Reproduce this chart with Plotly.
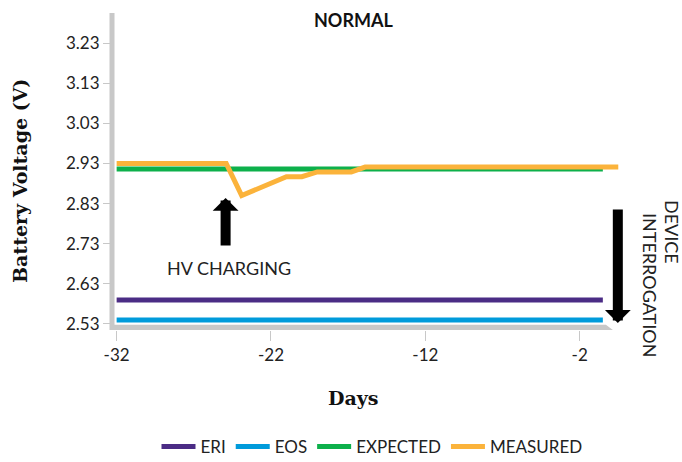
import plotly.graph_objects as go

# ---- data ----
days_line = [-32, -0.5]
eri = [2.59, 2.59]
eos = [2.54, 2.54]
expected = [2.916, 2.916]
days_measured = [-32, -24.9, -23.9, -21.0, -20.0, -19.0, -16.8, -15.9, 0.5]
measured = [2.93, 2.93, 2.85, 2.897, 2.897, 2.909, 2.909, 2.921, 2.921]
x_tick_vals = [-32, -22, -12, -2]
x_tick_text = ["-32", "-22", "-12", "-2"]
y_tick_vals = [2.53, 2.63, 2.73, 2.83, 2.93, 3.03, 3.13, 3.23]

COL_ERI = "#4b2c85"
COL_EOS = "#009bdb"
COL_EXP = "#0db04b"
COL_MEAS = "#fbb33b"
GRAY = "#c8c8c8"
SANS = "Lato, 'Noto Sans', sans-serif"
SERIF = "'DejaVu Serif', 'Liberation Serif', serif"
TXT = "#222222"

W, H = 682, 462

fig = go.Figure()
fig.add_trace(go.Scatter(x=days_line, y=eri, mode="lines", name="ERI",
                         line=dict(color=COL_ERI, width=5)))
fig.add_trace(go.Scatter(x=days_line, y=eos, mode="lines", name="EOS",
                         line=dict(color=COL_EOS, width=5)))
fig.add_trace(go.Scatter(x=days_line, y=expected, mode="lines", name="EXPECTED",
                         line=dict(color=COL_EXP, width=5)))
fig.add_trace(go.Scatter(x=days_measured, y=measured, mode="lines", name="MEASURED",
                         line=dict(color=COL_MEAS, width=5)))

X0, X1 = -32.3, 1.0
Y0, Y1 = 2.515, 3.305
# plot area in pixels: left 112, right 626, top 13, bottom 330
L, R, T, B = 112, W - 626, 13, H - 330
PW = W - L - R
PH = H - T - B


def px_x(p):
    return (p - L) / PW


def px_y(p):
    return (H - B - p) / PH


# axis lines as shapes
fig.add_shape(type="line", xref="paper", yref="paper", x0=0, x1=0, y0=0, y1=1,
              line=dict(color=GRAY, width=5), layer="below")
fig.add_shape(type="path", xref="x", yref="y",
              path=f"M {X0},{Y0+0.013} L -0.3,{Y0+0.013} L 0.15,{Y0} L {X0},{Y0} Z",
              fillcolor=GRAY, line=dict(width=0), layer="below")

fig.update_layout(
    width=W, height=H,
    margin=dict(l=L, r=R, t=T, b=B, autoexpand=False),
    plot_bgcolor="white", paper_bgcolor="white",
    font=dict(family=SANS, size=16, color=TXT),
    showlegend=True,
    legend=dict(orientation="h", xref="container", yref="container",
                x=372 / W, xanchor="center", y=(H - 447) / H, yanchor="middle",
                font=dict(family=SANS, size=17, color=TXT), itemwidth=34,
                tracegroupgap=0),
    xaxis=dict(range=[X0, X1], tickvals=x_tick_vals, ticktext=x_tick_text,
               ticks="outside", ticklen=10,
               tickcolor=GRAY, tickwidth=1, showgrid=False, zeroline=False, showline=False,
               tickfont=dict(family=SANS, size=17, color=TXT)),
    yaxis=dict(range=[Y0, Y1], tickvals=y_tick_vals, tickformat=".2f", ticks="outside",
               ticklen=8, tickcolor=GRAY, tickwidth=1, showgrid=False, zeroline=False,
               showline=False, tickfont=dict(family=SANS, size=17, color=TXT)),
)


def txt(text, x, y, size, family=SANS, color=TXT, angle=0):
    return dict(text=text, xref="paper", yref="paper", x=px_x(x), y=px_y(y),
                xanchor="center", yanchor="middle", textangle=angle,
                showarrow=False, font=dict(family=family, size=size, color=color))


annotations = [
    txt("<b>NORMAL</b>", 353, 20, 18, color="#111"),
    txt("<b>Battery Voltage (V)</b>", 20, 181, 19, family=SERIF, color="#111", angle=-90),
    txt("<b>Days</b>", 353, 398, 19, family=SERIF, color="#111"),
    # HV charging arrow
    dict(text="", x=-24.94, y=2.53 + (324 - 198) / 401, xref="x", yref="y", showarrow=True,
         ax=0, ay=49, arrowhead=1, arrowsize=0.43, arrowwidth=10, arrowcolor="#000"),
    txt("HV CHARGING", 229, 268, 18),
    # device interrogation arrow
    dict(text="", x=0.47, y=2.53 + (324 - 323) / 401, xref="x", yref="y", showarrow=True,
         ax=0, ay=-115, arrowhead=1, arrowsize=0.43, arrowwidth=10, arrowcolor="#000"),
    txt("DEVICE", 672, 232, 18, angle=90),
    txt("INTERROGATION", 650, 285, 18, angle=90),
]
fig.update_layout(annotations=annotations)

# remove the default 8px page margin so the figure fills the window exactly
fig.write_html("out.html",
               config={"displayModeBar": False},
               post_script="document.body.style.margin='0';"
                           "document.documentElement.style.overflow='hidden';")
